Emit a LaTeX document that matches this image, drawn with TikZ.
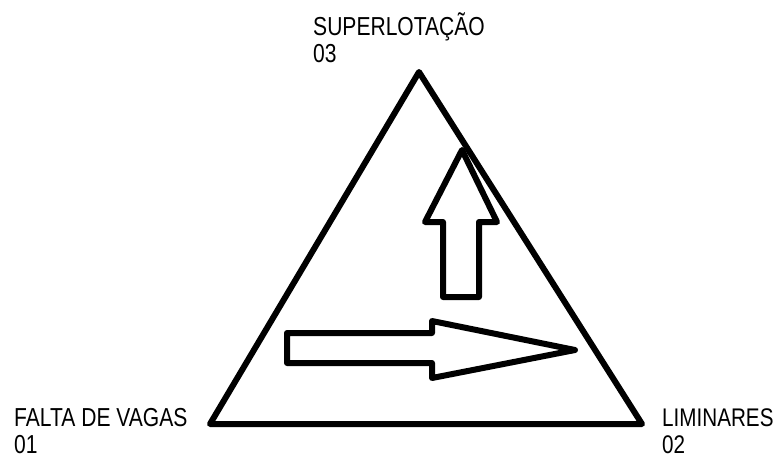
\documentclass[tikz,border=0pt]{standalone}
\usepackage{fontspec}
\setmainfont[FakeStretch=0.81]{Liberation Sans}
\begin{document}
\begin{tikzpicture}[x=1pt,y=-1pt,
  shape line/.style={line width=6pt,line join=round,line cap=round},
  lbl/.style={anchor=base west,inner sep=0pt,align=left,font=\fontsize{26}{27}\selectfont}]
\useasboundingbox (0,0) rectangle (776,459);
% triangle
\coordinate (top) at (419,72);
\coordinate (bl) at (210,424);
\coordinate (br) at (642,424);
\draw[shape line] (top) -- (bl) -- (br) -- cycle;
% up arrow
\draw[shape line] (443,297) -- (443,222) -- (425,222) -- (462,150) -- (497,222) -- (479,222) -- (479,297) -- cycle;
% right arrow
\draw[shape line] (287,333) -- (432,333) -- (432,321) -- (575,350) -- (432,378) -- (432,363) -- (287,363) -- cycle;
% labels
\node[lbl] (l3) at (313,62) {SUPERLOTAÇÃO\\03};
\node[lbl] (l1) at (14,453) {FALTA DE VAGAS\\01};
\node[lbl,font=\fontsize{25.5}{27}\selectfont] (l2) at (662,453) {LIMINARES\\02};
\end{tikzpicture}
\end{document}
